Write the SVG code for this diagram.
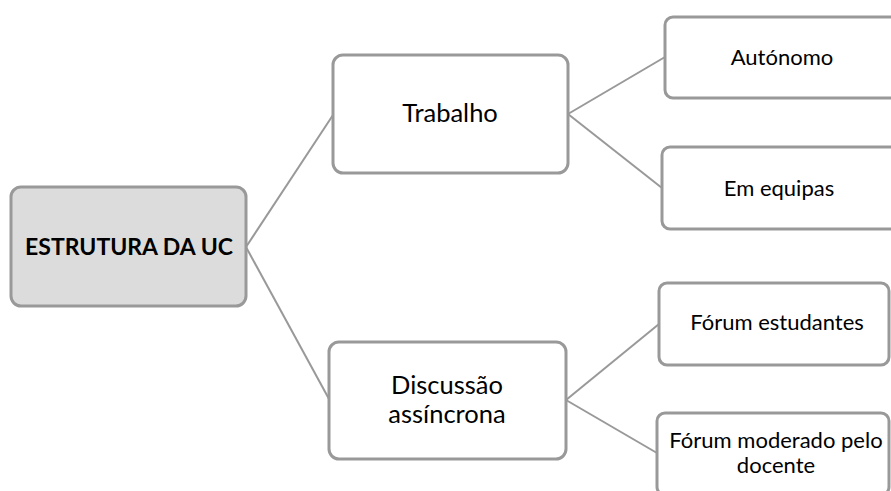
<svg xmlns="http://www.w3.org/2000/svg" width="891" height="491" viewBox="0 0 891 491">
  <style>
    .box { fill: #ffffff; stroke: #999999; stroke-width: 3; }
    .root { fill: #dcdcdc; }
    .link { stroke: #999999; stroke-width: 2; fill: none; }
    text { font-family: Lato, "Open Sans", sans-serif; fill: #000000; text-anchor: middle; }
    .mid { font-size: 25.5px; }
    .leaf { font-size: 22px; }
    .bold { font-weight: bold; font-size: 23px; }
  </style>
  <rect width="891" height="491" fill="#ffffff"/>

  <!-- connectors -->
  <g id="connectors">
    <line class="link" x1="246" y1="247" x2="333" y2="115"/>
    <line class="link" x1="246" y1="247" x2="329" y2="399"/>
    <line class="link" x1="568" y1="114" x2="665" y2="57"/>
    <line class="link" x1="568" y1="114" x2="662" y2="188"/>
    <line class="link" x1="566" y1="400" x2="659" y2="324"/>
    <line class="link" x1="566" y1="400" x2="657" y2="453"/>
  </g>

  <!-- root -->
  <g id="estrutura">
    <rect class="box root" x="11" y="187" width="235" height="119" rx="10"/>
    <text class="bold" x="129" y="255">ESTRUTURA DA UC</text>
  </g>

  <!-- second level -->
  <g id="trabalho">
    <rect class="box" x="333" y="55" width="235" height="118" rx="10"/>
    <text class="mid" x="450" y="122">Trabalho</text>
  </g>
  <g id="discussao">
    <rect class="box" x="329" y="342" width="237" height="117" rx="10"/>
    <text class="mid" x="447" y="394">Discussão</text>
    <text class="mid" x="447" y="423">assíncrona</text>
  </g>

  <!-- leaves -->
  <g id="autonomo">
    <rect class="box" x="665" y="17" width="240" height="81" rx="8"/>
    <text class="leaf" x="782" y="65">Autónomo</text>
  </g>
  <g id="equipas">
    <rect class="box" x="662" y="147" width="240" height="82" rx="8"/>
    <text class="leaf" x="779" y="196">Em equipas</text>
  </g>
  <g id="forum-estudantes">
    <rect class="box" x="659" y="283" width="230" height="82" rx="8"/>
    <text class="leaf" x="777" y="330">Fórum estudantes</text>
  </g>
  <g id="forum-moderado">
    <rect class="box" x="657" y="413" width="232" height="82" rx="8"/>
    <text class="leaf" x="776" y="448">Fórum moderado pelo</text>
    <text class="leaf" x="776" y="473">docente</text>
  </g>
</svg>
